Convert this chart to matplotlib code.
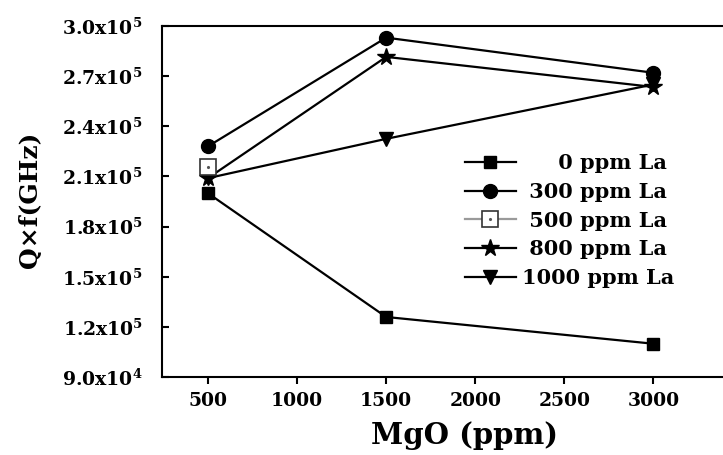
import matplotlib
matplotlib.use("Agg")
import matplotlib.pyplot as plt
from matplotlib.ticker import FixedLocator, FixedFormatter

FONT = ['DejaVu Serif']
plt.rcParams['font.family'] = FONT
plt.rcParams['font.weight'] = 'bold'
plt.rcParams['mathtext.fontset'] = 'custom'
plt.rcParams['mathtext.rm'] = 'DejaVu Serif:bold'
plt.rcParams['mathtext.bf'] = 'DejaVu Serif:bold'
plt.rcParams['mathtext.default'] = 'bf'

# Data
mgo = [500, 1500, 3000]
la0 = [2.00e5, 1.26e5, 1.10e5]
la300 = [2.28e5, 2.93e5, 2.72e5]
la500_x = [500]
la500 = [2.155e5]
la800 = [2.09e5, 2.815e5, 2.635e5]
la1000 = [2.09e5, 2.325e5, 2.65e5]

x_ticks = [500, 1000, 1500, 2000, 2500, 3000]
y_ticks = [9.0e4, 1.2e5, 1.5e5, 1.8e5, 2.1e5, 2.4e5, 2.7e5, 3.0e5]
y_tick_labels = ['9.0x10$^{4}$', '1.2x10$^{5}$', '1.5x10$^{5}$', '1.8x10$^{5}$',
                 '2.1x10$^{5}$', '2.4x10$^{5}$', '2.7x10$^{5}$', '3.0x10$^{5}$']
legend_labels = ['     0 ppm La', ' 300 ppm La', ' 500 ppm La', ' 800 ppm La', '1000 ppm La']

fig = plt.figure(figsize=(7.23, 4.55), dpi=100)
ax = fig.add_axes([0.224, 0.171, 0.776, 0.772])

lw = 1.6
h1000, = ax.plot(mgo, la1000, color='black', lw=lw, marker='v', ms=10, zorder=3)
h800, = ax.plot(mgo, la800, color='black', lw=lw, marker='*', ms=13, zorder=4)
h0, = ax.plot(mgo, la0, color='black', lw=lw, marker='s', ms=9, zorder=5)
h300, = ax.plot(mgo, la300, color='black', lw=lw, marker='o', ms=10, zorder=5)
h500, = ax.plot(la500_x, la500, color='#9a9a9a', lw=lw, marker='s', ms=11,
                mfc='white', mec='#333333', mew=1.2, zorder=6)
h500d, = ax.plot(la500_x, la500, ls='none', marker='.', ms=2.5, color='#555555', zorder=7)

ax.set_xlim(242, 3390)
ax.set_ylim(9.0e4, 3.0e5)
ax.xaxis.set_major_locator(FixedLocator(x_ticks))
ax.yaxis.set_major_locator(FixedLocator(y_ticks))
ax.yaxis.set_major_formatter(FixedFormatter(y_tick_labels))
ax.tick_params(axis='y', direction='in', length=5, width=1.5, labelsize=13.5, pad=14)
ax.tick_params(axis='x', direction='out', length=5, width=1.5, labelsize=13.5, pad=6)
for lab in ax.get_xticklabels() + ax.get_yticklabels():
    lab.set_fontweight('bold')
for s in ['left', 'bottom', 'top']:
    ax.spines[s].set_linewidth(1.5)
ax.spines['right'].set_visible(False)

ax.set_xlabel('MgO (ppm)', fontsize=21, fontweight='bold')
ax.set_ylabel('Q×f(GHz)', fontsize=18, fontweight='bold')
ax.xaxis.set_label_coords(0.54, -0.125)
ax.yaxis.set_label_coords(-0.214, 0.504)

leg = fig.legend([h0, h300, (h500, h500d), h800, h1000], legend_labels,
                 loc='upper left', bbox_to_anchor=(0.643, 0.663), frameon=False,
                 prop={'family': FONT, 'weight': 'bold', 'size': 15},
                 handlelength=2.45, handletextpad=0.3, labelspacing=0.415,
                 borderpad=0, borderaxespad=0)

fig.savefig('out.png', dpi=100)
